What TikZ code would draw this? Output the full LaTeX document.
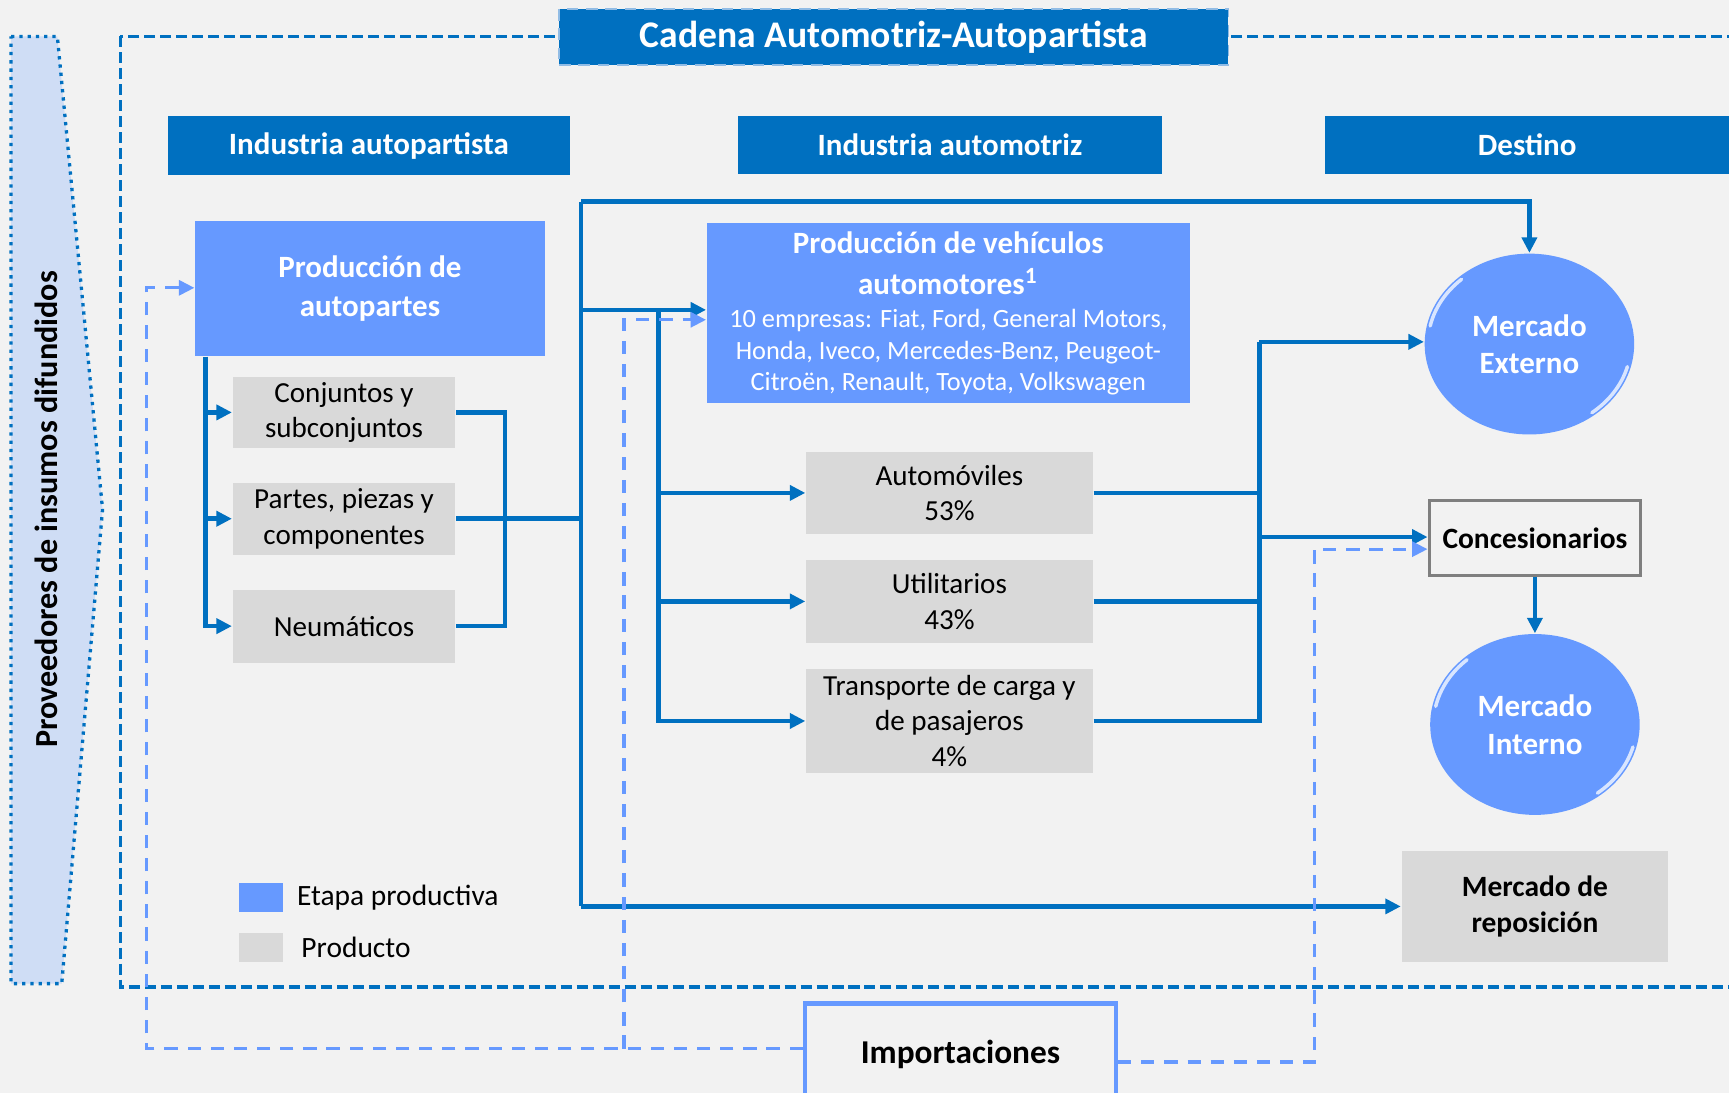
\documentclass[tikz,border=0pt]{standalone}
\usepackage{fontspec}
\setmainfont{Carlito}
\usetikzlibrary{arrows.meta,calc,positioning,shapes.geometric}
\definecolor{cadblue}{RGB}{0,112,192}
\definecolor{cadmid}{RGB}{102,153,255}
\definecolor{cadgray}{RGB}{217,217,217}
\definecolor{cadbg}{RGB}{242,242,242}
\definecolor{cadpale}{RGB}{207,221,245}
\definecolor{caddark}{RGB}{127,127,127}

\begin{document}
\begin{tikzpicture}[x=0.1mm,y=-0.1mm,
      font=\fontsize{7.5}{9.1}\selectfont,
      hdr/.style={fill=cadblue,text=white,inner sep=0,
        font=\bfseries\fontsize{8}{10}\selectfont,minimum height=5.3mm},
      stage/.style={fill=cadmid,text=white,inner sep=0,align=center,
        font=\bfseries\fontsize{8}{10}\selectfont},
      prod/.style={fill=cadgray,inner sep=0,align=center},
      mkt/.style={ellipse,fill=cadmid,text=white,inner sep=0,align=center,
        font=\bfseries\fontsize{8}{9.7}\selectfont,
        minimum width=19mm,minimum height=16.4mm},
      gloss/.style={white,line width=0.9pt,opacity=0.75,line cap=round},
      wire/.style={draw=cadblue,line width=1.2pt},
      conn/.style={wire,-{Triangle[length=1.4mm,width=1.35mm]}},
      imp/.style={draw=cadmid,line width=0.85pt,dash pattern=on 1.2mm off 0.9mm,
        -{Triangle[length=1.4mm,width=1.35mm]}}]
    % canvas
    \useasboundingbox (0,0) rectangle (1568,991);
    \fill[cadbg] (0,0) rectangle (1568,991);
    \clip (0,0) rectangle (1568,991);

    % suppliers arrow on the left
    \draw[cadblue,fill=cadpale,line width=0.85pt,dash pattern=on 0.3mm off 0.45mm]
      (10,33) -- (52,33) -- (93,462) -- (56,892) -- (10,892) -- cycle;
    \node[rotate=90,font=\bfseries\fontsize{8.3}{10}\selectfont] (prov) at (42,462)
      {Proveedores de insumos difundidos};

    % chain frame and title
    \draw[cadblue,line width=0.85pt,dash pattern=on 1mm off 0.45mm]
      (109,33) rectangle (1590,895);
    \node[fill=cadblue,draw=cadpale!70!cadblue,densely dashed,thin,text=white,
      minimum width=60.7mm,minimum height=5.1mm,inner sep=0,
      font=\bfseries\fontsize{9.7}{11}\selectfont] (title) at (810.5,33.5)
      {Cadena Automotriz-Autopartista};

    % column headers
    \node[hdr,minimum width=36.5mm] (hpart) at (334.5,132) {Industria autopartista};
    \node[hdr,minimum width=38.5mm] (hauto) at (861.5,131.5) {Industria automotriz};
    \node[hdr,minimum width=36.6mm] (hdest) at (1385,131.5) {Destino};

    % auto parts
    \node[stage,minimum width=31.7mm,minimum height=12.3mm] (autop) at (335.5,261.5)
      {Producción de\\autopartes};
    \node[prod,minimum width=20.2mm,minimum height=6.5mm] (conj) at (312,374)
      {Conjuntos y\\subconjuntos};
    \node[prod,minimum width=20.2mm,minimum height=6.5mm,below=3mm of conj] (partes)
      {Partes, piezas y\\componentes};
    \node[prod,minimum width=20.2mm,minimum height=6.6mm,below=3.05mm of partes] (neum)
      {Neumáticos};

    % vehicles
    \node[stage,minimum width=43.8mm,minimum height=16.3mm] (vehic) at (860,284)
      {Producción de vehículos\\[0.6pt]automotores\textsuperscript{1}\\[-1.3pt]
       {\mdseries\fontsize{6.8}{8.2}\selectfont 10 empresas: Fiat, Ford, General Motors,}\\[-1.9pt]
       {\mdseries\fontsize{6.8}{8.2}\selectfont Honda, Iveco, Mercedes-Benz, Peugeot-}\\[-1.9pt]
       {\mdseries\fontsize{6.8}{8.2}\selectfont Citroën, Renault, Toyota, Volkswagen}};
    \node[prod,minimum width=26mm,minimum height=7.5mm] (autos) at (861,447)
      {Automóviles\\53\%};
    \node[prod,minimum width=26mm,minimum height=7.5mm,below=2.2mm of autos] (util)
      {Utilitarios\\43\%};
    \node[prod,minimum width=26mm,minimum height=9.5mm,below=2.2mm of util] (transp)
      {Transporte de carga y\\de pasajeros\\4\%};

    % destinations
    \node[mkt] (mext) at (1387,312) {Mercado\\Externo};
    \node[draw=caddark,line width=0.8pt,fill=cadbg,inner sep=0,
      minimum width=19.2mm,minimum height=6.8mm,
      font=\bfseries\fontsize{7.6}{9}\selectfont] (conc) at (1392,488) {Concesionarios};
    \node[mkt] (mint) at (1392,657) {Mercado\\Interno};
    \node[prod,minimum width=24.2mm,minimum height=10mm,
      font=\bfseries\fontsize{7.6}{9.1}\selectfont] (repo) at (1392,822)
      {Mercado de\\reposición};
    \foreach \m in {mext,mint}{
      \draw[gloss] ($(\m.center)+(192:92 and 79)$) arc[start angle=192,end angle=228,x radius=92,y radius=79];
      \draw[gloss] ($(\m.center)+(15:92 and 79)$) arc[start angle=15,end angle=52,x radius=92,y radius=79];
    }

    % imports
    \node[draw=cadmid,line width=1.1pt,fill=cadbg,inner sep=0,
      minimum width=28.2mm,minimum height=9.2mm,
      font=\bfseries\fontsize{8.6}{10}\selectfont] (impo) at (871,956) {Importaciones};

    % legend
    \node[fill=cadmid,minimum width=4mm,minimum height=2.6mm,inner sep=0] (lgstage) at (237,814) {};
    \node[fill=cadgray,minimum width=4mm,minimum height=2.6mm,inner sep=0] (lgprod) at (237,859) {};
    \node[right=1.1mm of lgstage,inner sep=0,font=\fontsize{7.6}{9}\selectfont] {Etapa productiva};
    \node[right=1.5mm of lgprod,inner sep=0,font=\fontsize{7.6}{9}\selectfont] {Producto};

    % auto parts flows
    \coordinate (pbus) at ($(autop.south west)+(10,0)$);
    \foreach \n in {conj,partes,neum}
      \draw[conn] (pbus) |- (\n.west);
    \coordinate (pjoin) at (458,467);
    \draw[wire] (conj.east) -| (pjoin) |- (neum.east);
    \coordinate (ttop) at (527,183);
    \coordinate (tbot) at (527,822);
    \draw[wire] (partes.east) -- (partes.east -| ttop);
    \draw[wire] (ttop) -- (tbot);
    \draw[conn] (ttop) -| (mext.north);
    \draw[conn] (ttop |- 0,281) -- (vehic.west |- 0,281);
    \draw[conn] (tbot) -- (repo.west);

    % vehicle flows
    \coordinate (vbus) at (597,281);
    \foreach \n in {autos,util,transp}
      \draw[conn] (vbus) |- (\n.west);
    \coordinate (dbus) at (1142,310);
    \foreach \n in {autos,util,transp}
      \draw[wire] (\n.east) -| (dbus);
    \draw[conn] (dbus) -- (mext.west |- dbus);
    \draw[conn] (dbus |- 0,487) -- (conc.west |- 0,487);
    \draw[conn] (conc.south) -- (mint.north);

    % import flows
    \draw[imp] (impo.west |- 0,951) -| (133,261) -- (autop.west |- 0,261);
    \draw[imp] (566,951) |- (vehic.west |- 0,290);
    \draw[imp] (impo.east |- 0,963) -| (1192,498) -- (conc.west |- 0,498);
\end{tikzpicture}
\end{document}
